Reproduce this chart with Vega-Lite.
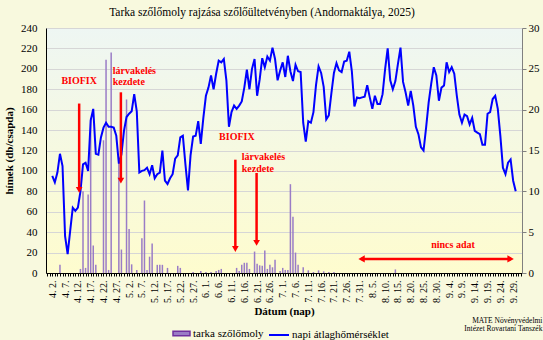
{
  "$schema": "https://vega.github.io/schema/vega-lite/v6.json",
  "width": 476,
  "height": 245,
  "autosize": {"type": "none"},
  "padding": {"left": 46, "top": 28, "right": 21, "bottom": 67},
  "background": "#f8f9de",
  "config": {
    "font": "Liberation Serif",
    "view": {"stroke": null, "fill": {"gradient": "linear", "x1": 0, "y1": 0, "x2": 0, "y2": 1, "stops": [{"offset": 0, "color": "#eef6f3"}, {"offset": 1, "color": "#fefcce"}]}},
    "axis": {"labelFont": "Liberation Serif", "titleFont": "Liberation Serif", "labelColor": "#000", "titleColor": "#000"},
    "legend": {"labelFont": "Liberation Serif", "labelFontSize": 11, "labelColor": "#000"}
  },
  "title": {"text": "Tarka szőlőmoly rajzása szőlőültetvényben (Andornaktálya, 2025)", "font": "Liberation Serif", "fontSize": 11.5, "fontWeight": "normal", "color": "#000", "dx": -22, "offset": 4},
  "datasets": {
    "daily": [
      {"date": "2025-04-02", "temp": 11.9},
      {"date": "2025-04-03", "temp": 11.1},
      {"date": "2025-04-04", "temp": 12.3},
      {"date": "2025-04-05", "temp": 14.6, "count": 8},
      {"date": "2025-04-06", "temp": 13.1},
      {"date": "2025-04-07", "temp": 4.5},
      {"date": "2025-04-08", "temp": 2.3},
      {"date": "2025-04-09", "temp": 5.2},
      {"date": "2025-04-10", "temp": 8.0},
      {"date": "2025-04-11", "temp": 7.6},
      {"date": "2025-04-12", "temp": 8.0},
      {"date": "2025-04-13", "temp": 10.0, "count": 4},
      {"date": "2025-04-14", "temp": 13.3, "count": 80},
      {"date": "2025-04-15", "temp": 13.5, "count": 5},
      {"date": "2025-04-16", "temp": 12.5, "count": 77},
      {"date": "2025-04-17", "temp": 18.7, "count": 152},
      {"date": "2025-04-18", "temp": 20.1, "count": 27},
      {"date": "2025-04-19", "temp": 14.6, "count": 8},
      {"date": "2025-04-20", "temp": 14.5},
      {"date": "2025-04-21", "temp": 16.6},
      {"date": "2025-04-22", "temp": 17.8, "count": 130},
      {"date": "2025-04-23", "temp": 18.4, "count": 209},
      {"date": "2025-04-24", "temp": 17.9, "count": 3},
      {"date": "2025-04-25", "temp": 17.9, "count": 216},
      {"date": "2025-04-26", "temp": 17.8},
      {"date": "2025-04-27", "temp": 16.8},
      {"date": "2025-04-28", "temp": 13.4, "count": 110},
      {"date": "2025-04-29", "temp": 14.5, "count": 23},
      {"date": "2025-04-30", "temp": 17.4},
      {"date": "2025-05-01", "temp": 19.1, "count": 170},
      {"date": "2025-05-02", "temp": 19.5, "count": 43},
      {"date": "2025-05-03", "temp": 19.8, "count": 8.5},
      {"date": "2025-05-04", "temp": 21.9},
      {"date": "2025-05-05", "temp": 19.8, "count": 3},
      {"date": "2025-05-06", "temp": 12.3},
      {"date": "2025-05-07", "temp": 12.5, "count": 34},
      {"date": "2025-05-08", "temp": 12.6, "count": 71},
      {"date": "2025-05-09", "temp": 12.9, "count": 3},
      {"date": "2025-05-10", "temp": 12.1, "count": 16},
      {"date": "2025-05-11", "temp": 13.2, "count": 29},
      {"date": "2025-05-12", "temp": 11.6},
      {"date": "2025-05-13", "temp": 12.1, "count": 8},
      {"date": "2025-05-14", "temp": 12.3, "count": 8},
      {"date": "2025-05-15", "temp": 15.0, "count": 8},
      {"date": "2025-05-16", "temp": 11.3},
      {"date": "2025-05-17", "temp": 10.9, "count": 5},
      {"date": "2025-05-18", "temp": 11.6},
      {"date": "2025-05-19", "temp": 12.1},
      {"date": "2025-05-20", "temp": 14.0},
      {"date": "2025-05-21", "temp": 14.4, "count": 7},
      {"date": "2025-05-22", "temp": 16.6, "count": 5},
      {"date": "2025-05-23", "temp": 16.8},
      {"date": "2025-05-24", "temp": 13.3},
      {"date": "2025-05-25", "temp": 10.1},
      {"date": "2025-05-26", "temp": 14.4},
      {"date": "2025-05-27", "temp": 16.7, "count": 1},
      {"date": "2025-05-28", "temp": 16.8},
      {"date": "2025-05-29", "temp": 18.6},
      {"date": "2025-05-30", "temp": 15.8, "count": 2},
      {"date": "2025-05-31", "temp": 19.0},
      {"date": "2025-06-01", "temp": 21.7, "count": 1},
      {"date": "2025-06-02", "temp": 22.7},
      {"date": "2025-06-03", "temp": 24.2, "count": 1},
      {"date": "2025-06-04", "temp": 22.5},
      {"date": "2025-06-05", "temp": 24.4, "count": 2},
      {"date": "2025-06-06", "temp": 26.0, "count": 3},
      {"date": "2025-06-07", "temp": 25.8, "count": 4},
      {"date": "2025-06-08", "temp": 26.2},
      {"date": "2025-06-09", "temp": 23.6},
      {"date": "2025-06-10", "temp": 17.9},
      {"date": "2025-06-11", "temp": 19.7},
      {"date": "2025-06-12", "temp": 20.5},
      {"date": "2025-06-13", "temp": 20.1, "count": 5},
      {"date": "2025-06-14", "temp": 20.5, "count": 2},
      {"date": "2025-06-15", "temp": 21.0, "count": 8},
      {"date": "2025-06-16", "temp": 22.7, "count": 10},
      {"date": "2025-06-17", "temp": 24.9, "count": 10},
      {"date": "2025-06-18", "temp": 22.5, "count": 4},
      {"date": "2025-06-19", "temp": 25.0},
      {"date": "2025-06-20", "temp": 26.2, "count": 21},
      {"date": "2025-06-21", "temp": 21.7, "count": 9},
      {"date": "2025-06-22", "temp": 23.7, "count": 7.5},
      {"date": "2025-06-23", "temp": 26.3, "count": 7},
      {"date": "2025-06-24", "temp": 25.2, "count": 22},
      {"date": "2025-06-25", "temp": 26.5, "count": 4},
      {"date": "2025-06-26", "temp": 26.0, "count": 8},
      {"date": "2025-06-27", "temp": 27.6, "count": 5.6},
      {"date": "2025-06-28", "temp": 26.2, "count": 13},
      {"date": "2025-06-29", "temp": 23.6},
      {"date": "2025-06-30", "temp": 24.8, "count": 2},
      {"date": "2025-07-01", "temp": 25.8, "count": 5},
      {"date": "2025-07-02", "temp": 24.0, "count": 3},
      {"date": "2025-07-03", "temp": 26.6, "count": 3},
      {"date": "2025-07-04", "temp": 24.7, "count": 87},
      {"date": "2025-07-05", "temp": 23.5, "count": 55},
      {"date": "2025-07-06", "temp": 25.5, "count": 20},
      {"date": "2025-07-07", "temp": 24.7, "count": 8},
      {"date": "2025-07-08", "temp": 24.6},
      {"date": "2025-07-09", "temp": 18.4, "count": 5.6},
      {"date": "2025-07-10", "temp": 16.1},
      {"date": "2025-07-11", "temp": 18.6, "count": 2.6},
      {"date": "2025-07-12", "temp": 18.4},
      {"date": "2025-07-13", "temp": 19.7, "count": 1},
      {"date": "2025-07-14", "temp": 23.0},
      {"date": "2025-07-15", "temp": 25.3, "count": 2.6},
      {"date": "2025-07-16", "temp": 24.5},
      {"date": "2025-07-17", "temp": 22.8, "count": 1.6},
      {"date": "2025-07-18", "temp": 18.8},
      {"date": "2025-07-19", "temp": 19.3, "count": 1},
      {"date": "2025-07-20", "temp": 22.0},
      {"date": "2025-07-21", "temp": 24.5, "count": 1},
      {"date": "2025-07-22", "temp": 25.7},
      {"date": "2025-07-23", "temp": 24.8},
      {"date": "2025-07-24", "temp": 24.6},
      {"date": "2025-07-25", "temp": 25.9},
      {"date": "2025-07-26", "temp": 26.0},
      {"date": "2025-07-27", "temp": 27.1},
      {"date": "2025-07-28", "temp": 24.7},
      {"date": "2025-07-29", "temp": 20.4},
      {"date": "2025-07-30", "temp": 21.5},
      {"date": "2025-07-31", "temp": 21.4},
      {"date": "2025-08-01", "temp": 21.5},
      {"date": "2025-08-02", "temp": 21.6},
      {"date": "2025-08-03", "temp": 23.0},
      {"date": "2025-08-04", "temp": 21.5},
      {"date": "2025-08-05", "temp": 20.1},
      {"date": "2025-08-06", "temp": 21.7},
      {"date": "2025-08-07", "temp": 20.7},
      {"date": "2025-08-08", "temp": 20.7},
      {"date": "2025-08-09", "temp": 21.9},
      {"date": "2025-08-10", "temp": 25.0},
      {"date": "2025-08-11", "temp": 27.5},
      {"date": "2025-08-12", "temp": 23.6},
      {"date": "2025-08-13", "temp": 22.5},
      {"date": "2025-08-14", "temp": 23.5, "count": 3.5},
      {"date": "2025-08-15", "temp": 25.6},
      {"date": "2025-08-16", "temp": 27.6},
      {"date": "2025-08-17", "temp": 23.4},
      {"date": "2025-08-18", "temp": 22.1},
      {"date": "2025-08-19", "temp": 20.5},
      {"date": "2025-08-20", "temp": 22.3},
      {"date": "2025-08-21", "temp": 20.5},
      {"date": "2025-08-22", "temp": 17.9},
      {"date": "2025-08-23", "temp": 17.0},
      {"date": "2025-08-24", "temp": 15.4},
      {"date": "2025-08-25", "temp": 15.0},
      {"date": "2025-08-26", "temp": 17.8},
      {"date": "2025-08-27", "temp": 20.9},
      {"date": "2025-08-28", "temp": 23.2},
      {"date": "2025-08-29", "temp": 25.2},
      {"date": "2025-08-30", "temp": 24.2},
      {"date": "2025-08-31", "temp": 21.1},
      {"date": "2025-09-01", "temp": 22.7},
      {"date": "2025-09-02", "temp": 22.95},
      {"date": "2025-09-03", "temp": 25.8},
      {"date": "2025-09-04", "temp": 24.6},
      {"date": "2025-09-05", "temp": 25.2},
      {"date": "2025-09-06", "temp": 24.4},
      {"date": "2025-09-07", "temp": 21.7},
      {"date": "2025-09-08", "temp": 19.4},
      {"date": "2025-09-09", "temp": 18.4},
      {"date": "2025-09-10", "temp": 19.4},
      {"date": "2025-09-11", "temp": 19.2},
      {"date": "2025-09-12", "temp": 18.2},
      {"date": "2025-09-13", "temp": 19.0},
      {"date": "2025-09-14", "temp": 17.4},
      {"date": "2025-09-15", "temp": 17.2},
      {"date": "2025-09-16", "temp": 17.0},
      {"date": "2025-09-17", "temp": 15.7},
      {"date": "2025-09-18", "temp": 15.7},
      {"date": "2025-09-19", "temp": 19.5},
      {"date": "2025-09-20", "temp": 19.7},
      {"date": "2025-09-21", "temp": 21.3},
      {"date": "2025-09-22", "temp": 21.7},
      {"date": "2025-09-23", "temp": 20.1},
      {"date": "2025-09-24", "temp": 16.8},
      {"date": "2025-09-25", "temp": 12.9},
      {"date": "2025-09-26", "temp": 12.1},
      {"date": "2025-09-27", "temp": 13.5},
      {"date": "2025-09-28", "temp": 13.9},
      {"date": "2025-09-29", "temp": 11.3},
      {"date": "2025-09-30", "temp": 10.0}
    ],
    "vArrows": [
      {"date": "2025-04-12T12:00:00Z", "from": 166, "to": 84, "head": 81.5},
      {"date": "2025-04-28T19:00:00Z", "from": 177, "to": 93, "head": 90.5},
      {"date": "2025-06-12T12:00:00Z", "from": 111, "to": 26, "head": 23.5},
      {"date": "2025-06-20T19:00:00Z", "from": 98, "to": 32, "head": 29.5}
    ],
    "hArrow": [
      {"start": "2025-07-31T19:00:00Z", "end": "2025-09-28T00:00:00Z", "v": 13.8}
    ],
    "hHeads": [
      {"date": "2025-07-31T19:00:00Z", "v": 13.8, "dir": "left"},
      {"date": "2025-09-28T00:00:00Z", "v": 13.8, "dir": "right"}
    ],
    "centerLabels": [
      {"date": "2025-04-12T12:00:00Z", "v": 187.6, "label": "BIOFIX"},
      {"date": "2025-06-13T02:00:00Z", "v": 132.8, "label": "BIOFIX"},
      {"date": "2025-09-05T12:00:00Z", "v": 27.8, "label": "nincs adat"}
    ],
    "leftLabels": [
      {"date": "2025-04-25T14:00:00Z", "v": 197.7, "label": "lárvakelés"},
      {"date": "2025-04-25T14:00:00Z", "v": 186.9, "label": "kezdete"},
      {"date": "2025-06-15T00:00:00Z", "v": 113.8, "label": "lárvakelés"},
      {"date": "2025-06-15T00:00:00Z", "v": 102.3, "label": "kezdete"}
    ],
    "credit": [
      {"date": "2025-10-10T10:00:00Z", "v": -43, "label": ["MATE Növényvédelmi", "Intézet Rovartani Tanszék"]}
    ]
  },
  "layer": [
    {
      "data": {"name": "daily"},
      "transform": [{"filter": "isValid(datum.count)"}],
      "mark": {"type": "bar", "width": 1.5},
      "encoding": {
        "x": {
          "field": "date", "type": "temporal",
          "scale": {"type": "utc", "domain": [{"year": 2025, "month": 4, "date": 1, "hours": 12, "utc": true}, {"year": 2025, "month": 9, "date": 30, "hours": 12, "utc": true}]},
          "axis": {
            "title": "Dátum (nap)", "titleFontWeight": "bold", "titleFontSize": 11, "titlePadding": 3,
            "grid": false, "domainColor": "#000", "tickColor": "#000", "tickSize": 3,
            "tickCount": {"interval": "day", "step": 1},
            "labelAngle": -90, "labelAlign": "right", "labelBaseline": "middle", "labelFontSize": 10, "labelPadding": 4, "labelOverlap": false,
            "labelExpr": "(round((datum.value - utc(2025,3,2)) / 86400000) % 5 == 0) ? (utcmonth(datum.value) + 1) + '. ' + utcdate(datum.value) + '.' : ''"
          }
        },
        "y": {
          "field": "count", "type": "quantitative",
          "scale": {"domain": [0, 240], "nice": false},
          "axis": {
            "orient": "left",
            "title": "hímek (db/csapda)", "titleFontWeight": "bold", "titleFontSize": 11, "titlePadding": 6,
            "values": [0, 20, 40, 60, 80, 100, 120, 140, 160, 180, 200, 220, 240], "labelOverlap": false,
            "grid": true, "gridColor": "#d6d6d6", "gridWidth": 1,
            "domainColor": "#000", "ticks": false, "labelPadding": 9, "labelFontSize": 11
          }
        },
        "fill": {
          "datum": "tarka szőlőmoly", "type": "nominal",
          "scale": {"range": ["#9a7cc6"]},
          "legend": {
            "title": null, "orient": "none", "legendX": 126, "legendY": 296,
            "symbolType": "M-1,-0.27H1V0.27H-1Z", "symbolSize": 289, "labelOffset": 2,
            "encode": {"symbols": {"update": {"fill": {"value": "#7030a0"}, "stroke": {"value": "#7030a0"}}}}
          }
        }
      }
    },
    {
      "data": {"name": "daily"},
      "mark": {"type": "line", "strokeWidth": 2},
      "encoding": {
        "x": {"field": "date", "type": "temporal"},
        "y": {
          "field": "temp", "type": "quantitative",
          "scale": {"domain": [0, 30], "nice": false},
          "axis": {"orient": "right", "title": null, "values": [0, 5, 10, 15, 20, 25, 30], "grid": false, "domainColor": "#808080", "tickColor": "#808080", "tickSize": 4, "labelPadding": 2, "labelFontSize": 11}
        },
        "stroke": {
          "datum": "napi átlaghőmérséklet", "type": "nominal",
          "scale": {"range": ["#0000ff"]},
          "legend": {"title": null, "orient": "none", "legendX": 222, "legendY": 296, "symbolType": "stroke", "symbolSize": 400, "symbolStrokeWidth": 2, "labelOffset": 2}
        }
      }
    },
    {
      "data": {"name": "vArrows"},
      "mark": {"type": "rule", "color": "#ff0000", "strokeWidth": 2.5},
      "encoding": {
        "x": {"field": "date", "type": "temporal"},
        "y": {"field": "from", "type": "quantitative", "scale": {"domain": [0, 240], "nice": false}, "axis": null},
        "y2": {"field": "to"}
      }
    },
    {
      "data": {"name": "vArrows"},
      "mark": {"type": "point", "shape": "triangle-down", "filled": true, "size": 45, "color": "#ff0000", "opacity": 1},
      "encoding": {
        "x": {"field": "date", "type": "temporal"},
        "y": {"field": "head", "type": "quantitative", "scale": {"domain": [0, 240], "nice": false}, "axis": null}
      }
    },
    {
      "data": {"name": "hArrow"},
      "mark": {"type": "rule", "color": "#ff0000", "strokeWidth": 2.5},
      "encoding": {
        "x": {"field": "start", "type": "temporal"},
        "x2": {"field": "end"},
        "y": {"field": "v", "type": "quantitative", "scale": {"domain": [0, 240], "nice": false}, "axis": null}
      }
    },
    {
      "data": {"name": "hHeads"},
      "transform": [{"filter": "datum.dir == 'left'"}],
      "mark": {"type": "point", "shape": "triangle-left", "filled": true, "size": 55, "color": "#ff0000", "opacity": 1},
      "encoding": {
        "x": {"field": "date", "type": "temporal"},
        "y": {"field": "v", "type": "quantitative", "scale": {"domain": [0, 240], "nice": false}, "axis": null}
      }
    },
    {
      "data": {"name": "hHeads"},
      "transform": [{"filter": "datum.dir == 'right'"}],
      "mark": {"type": "point", "shape": "triangle-right", "filled": true, "size": 55, "color": "#ff0000", "opacity": 1},
      "encoding": {
        "x": {"field": "date", "type": "temporal"},
        "y": {"field": "v", "type": "quantitative", "scale": {"domain": [0, 240], "nice": false}, "axis": null}
      }
    },
    {
      "data": {"name": "centerLabels"},
      "mark": {"type": "text", "font": "Liberation Serif", "fontSize": 10, "fontWeight": "bold", "color": "#ff0000", "align": "center", "baseline": "middle"},
      "encoding": {
        "x": {"field": "date", "type": "temporal"},
        "y": {"field": "v", "type": "quantitative", "scale": {"domain": [0, 240], "nice": false}, "axis": null},
        "text": {"field": "label"}
      }
    },
    {
      "data": {"name": "leftLabels"},
      "mark": {"type": "text", "font": "Liberation Serif", "fontSize": 10, "fontWeight": "bold", "color": "#ff0000", "align": "left", "baseline": "middle"},
      "encoding": {
        "x": {"field": "date", "type": "temporal"},
        "y": {"field": "v", "type": "quantitative", "scale": {"domain": [0, 240], "nice": false}, "axis": null},
        "text": {"field": "label"}
      }
    },
    {
      "data": {"name": "credit"},
      "mark": {"type": "text", "font": "Liberation Serif", "fontSize": 7.5, "color": "#000", "align": "right", "baseline": "top", "lineHeight": 8.5},
      "encoding": {
        "x": {"field": "date", "type": "temporal"},
        "y": {"field": "v", "type": "quantitative", "scale": {"domain": [0, 240], "nice": false}, "axis": null},
        "text": {"field": "label"}
      }
    }
  ],
  "resolve": {"scale": {"y": "independent"}}
}
